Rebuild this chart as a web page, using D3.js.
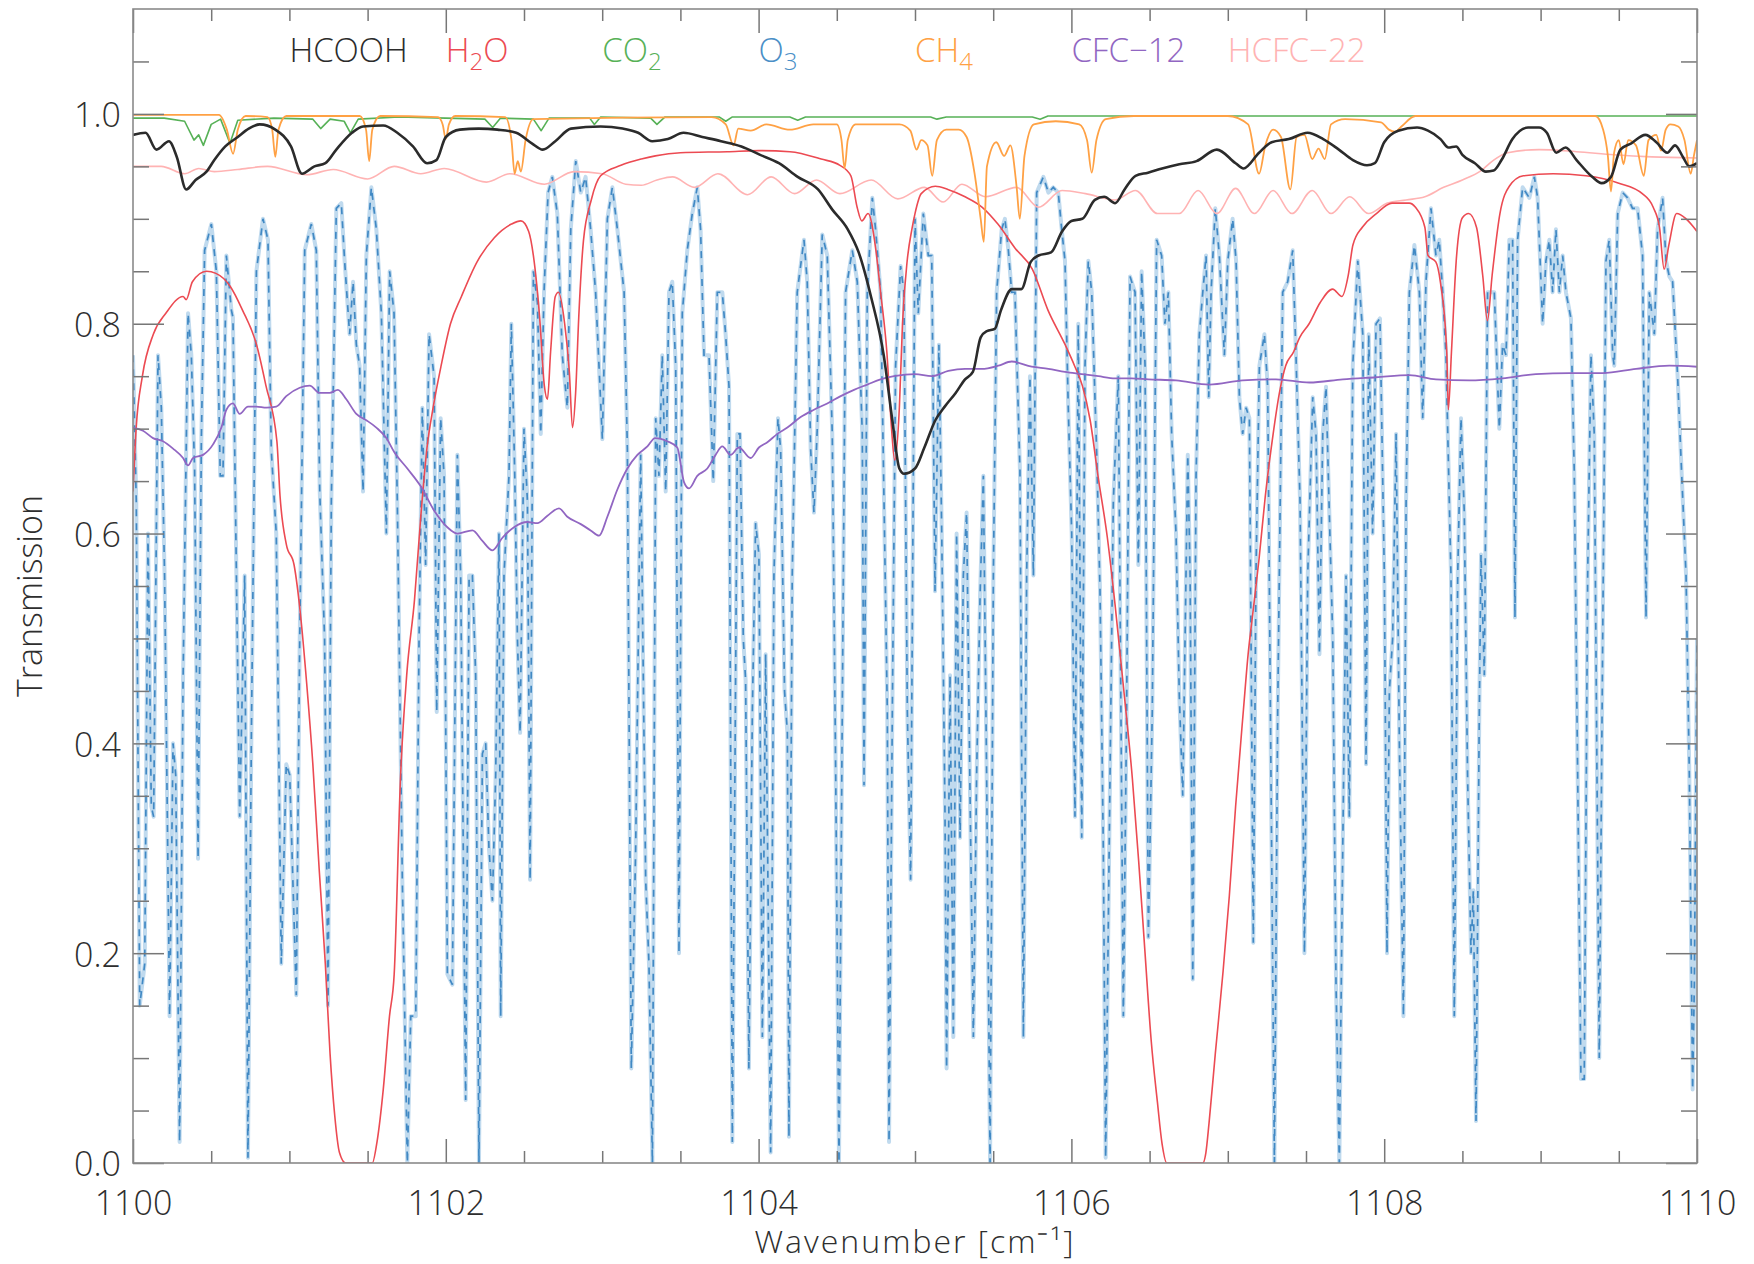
<!DOCTYPE html>
<html>
<head>
<meta charset="utf-8">
<script src="https://cdn.jsdelivr.net/npm/d3@7"></script>
<style>
  body { margin: 0; background: #fff; }
  text { font-family: "Open Sans", "DejaVu Sans", sans-serif; font-weight: 300; }
</style>
</head>
<body>
<svg id="chart" width="1754" height="1264"></svg>
<script>
// transmission spectra, [wavenumber, transmission]
const hcooh = [[1100.0,.98],[1100.08,.982],[1100.15,.966],[1100.23,.974],[1100.28,.959],[1100.34,.928],[1100.40,.937],[1100.47,.945],[1100.52,.956],[1100.59,.969],[1100.67,.978],[1100.74,.986],[1100.81,.99],[1100.91,.985],[1101.01,.969],[1101.08,.943],[1101.16,.95],[1101.23,.953],[1101.30,.966],[1101.40,.982],[1101.47,.988],[1101.60,.989],[1101.69,.982],[1101.79,.969],[1101.88,.953],[1101.94,.956],[1102.00,.978],[1102.09,.985],[1102.21,.986],[1102.33,.985],[1102.45,.982],[1102.55,.972],[1102.62,.966],[1102.70,.974],[1102.80,.986],[1102.99,.988],[1103.13,.986],[1103.23,.982],[1103.32,.974],[1103.42,.976],[1103.52,.982],[1103.64,.978],[1103.76,.974],[1103.89,.969],[1104.01,.961],[1104.13,.953],[1104.25,.94],[1104.38,.928],[1104.47,.909],[1104.57,.89],[1104.64,.868],[1104.72,.825],[1104.80,.77],[1104.855,.708],[1104.90,.662],[1104.93,.657],[1105.0,.662],[1105.06,.682],[1105.13,.708],[1105.19,.721],[1105.26,.734],[1105.32,.747],[1105.37,.754],[1105.42,.787],[1105.46,.793],[1105.51,.795],[1105.55,.813],[1105.62,.833],[1105.68,.833],[1105.74,.859],[1105.79,.865],[1105.87,.868],[1105.94,.888],[1106.00,.898],[1106.07,.90],[1106.15,.918],[1106.21,.921],[1106.28,.915],[1106.34,.928],[1106.41,.941],[1106.49,.944],[1106.58,.948],[1106.69,.952],[1106.80,.955],[1106.93,.966],[1107.05,.953],[1107.10,.948],[1107.20,.963],[1107.28,.973],[1107.39,.976],[1107.51,.982],[1107.61,.976],[1107.71,.966],[1107.80,.956],[1107.89,.951],[1107.94,.953],[1108.00,.973],[1108.09,.984],[1108.21,.987],[1108.28,.984],[1108.36,.976],[1108.41,.968],[1108.46,.969],[1108.50,.961],[1108.58,.953],[1108.65,.945],[1108.70,.946],[1108.75,.956],[1108.82,.976],[1108.92,.987],[1108.99,.987],[1109.04,.982],[1109.10,.963],[1109.16,.968],[1109.23,.956],[1109.33,.94],[1109.39,.934],[1109.45,.94],[1109.51,.966],[1109.58,.972],[1109.67,.98],[1109.74,.973],[1109.81,.963],[1109.86,.97],[1109.91,.959],[1109.95,.95],[1110.0,.953]];

const h2o = [[1100.0,.64],[1100.02,.70],[1100.06,.75],[1100.13,.79],[1100.21,.81],[1100.32,.826],[1100.34,.823],[1100.38,.84],[1100.47,.85],[1100.53,.848],[1100.62,.836],[1100.70,.813],[1100.79,.78],[1100.85,.741],[1100.92,.688],[1100.94,.636],[1100.98,.59],[1101.03,.57],[1101.07,.524],[1101.11,.458],[1101.15,.38],[1101.19,.281],[1101.23,.189],[1101.26,.104],[1101.29,.045],[1101.32,.01],[1101.36,0],[1101.53,0],[1101.56,.02],[1101.60,.07],[1101.64,.14],[1101.67,.18],[1101.71,.366],[1101.75,.465],[1101.80,.537],[1101.84,.616],[1101.88,.682],[1101.92,.721],[1101.97,.76],[1102.03,.80],[1102.10,.826],[1102.20,.859],[1102.31,.882],[1102.42,.895],[1102.48,.898],[1102.53,.888],[1102.56,.865],[1102.60,.806],[1102.63,.741],[1102.65,.728],[1102.67,.773],[1102.70,.826],[1102.72,.83],[1102.76,.80],[1102.79,.754],[1102.81,.701],[1102.83,.734],[1102.85,.806],[1102.88,.879],[1102.93,.918],[1102.99,.941],[1103.12,.951],[1103.25,.957],[1103.34,.96],[1103.5,.963],[1103.8,.964],[1104.0,.965],[1104.2,.964],[1104.4,.957],[1104.52,.951],[1104.59,.941],[1104.63,.911],[1104.66,.898],[1104.70,.905],[1104.75,.87],[1104.78,.83],[1104.82,.773],[1104.85,.70],[1104.87,.67],[1104.90,.72],[1104.92,.80],[1104.95,.86],[1104.98,.89],[1105.0,.905],[1105.04,.924],[1105.13,.931],[1105.21,.928],[1105.32,.921],[1105.43,.911],[1105.53,.895],[1105.64,.872],[1105.75,.852],[1105.85,.813],[1105.96,.78],[1106.02,.76],[1106.07,.741],[1106.12,.708],[1106.17,.655],[1106.23,.596],[1106.28,.531],[1106.33,.458],[1106.39,.366],[1106.43,.288],[1106.47,.202],[1106.51,.117],[1106.55,.058],[1106.58,.018],[1106.61,0],[1106.84,0],[1106.86,.01],[1106.88,.038],[1106.92,.104],[1106.97,.183],[1107.01,.255],[1107.05,.34],[1107.10,.432],[1107.13,.485],[1107.16,.524],[1107.20,.576],[1107.24,.636],[1107.29,.695],[1107.33,.734],[1107.37,.76],[1107.42,.773],[1107.46,.787],[1107.52,.80],[1107.59,.82],[1107.67,.833],[1107.73,.826],[1107.77,.846],[1107.80,.875],[1107.86,.892],[1107.95,.905],[1108.05,.915],[1108.16,.915],[1108.20,.911],[1108.26,.892],[1108.28,.865],[1108.33,.859],[1108.36,.839],[1108.40,.773],[1108.41,.718],[1108.43,.773],[1108.46,.859],[1108.50,.901],[1108.54,.905],[1108.59,.892],[1108.63,.846],[1108.66,.803],[1108.69,.846],[1108.74,.905],[1108.80,.931],[1108.89,.941],[1109.08,.943],[1109.29,.941],[1109.50,.934],[1109.65,.924],[1109.72,.911],[1109.76,.892],[1109.79,.852],[1109.82,.875],[1109.87,.905],[1109.93,.90],[1110.0,.888]];

const co2 = [[1100.0,.996],[1100.2,.996],[1100.33,.993],[1100.39,.975],[1100.42,.980],[1100.45,.970],[1100.50,.990],[1100.56,.995],[1100.62,.972],[1100.67,.994],[1100.9,.996],[1101.15,.995],[1101.20,.986],[1101.26,.995],[1101.35,.993],[1101.39,.982],[1101.44,.995],[1101.7,.997],[1102.0,.996],[1102.25,.995],[1102.30,.987],[1102.35,.996],[1102.56,.995],[1102.61,.984],[1102.66,.996],[1102.92,.996],[1102.95,.990],[1102.99,.997],[1103.31,.996],[1103.35,.990],[1103.40,.997],[1103.75,.997],[1103.79,.993],[1103.83,.997],[1104.2,.997],[1104.25,.994],[1104.3,.997],[1105.1,.997],[1105.14,.995],[1105.2,.997],[1105.75,.997],[1105.8,.995],[1105.85,.998],[1110.0,.998]];

// ozone, split in four stretches of the band
const o3A = [[1100.000,.77],[1100.021,.63],[1100.043,.15],[1100.075,.19],[1100.096,.60],[1100.117,.34],[1100.132,.33],[1100.160,.77],[1100.181,.72],[1100.202,.56],[1100.234,.14],[1100.256,.40],[1100.273,.37],[1100.298,.02],[1100.320,.46],[1100.352,.81],[1100.373,.77],[1100.394,.66],[1100.416,.29],[1100.437,.69],[1100.458,.87],[1100.501,.895],[1100.533,.85],[1100.558,.655],[1100.575,.655],[1100.597,.865],[1100.629,.813],[1100.639,.806],[1100.682,.33],[1100.714,.56],[1100.735,.005],[1100.757,.41],[1100.789,.85],[1100.831,.90],[1100.863,.88],[1100.884,.68],[1100.916,.60],[1100.948,.19],[1100.980,.38],[1101.002,.37],[1101.044,.16],[1101.066,.50],[1101.098,.87],[1101.140,.895],[1101.172,.87],[1101.194,.64],[1101.225,.50],[1101.247,.15],[1101.268,.63],[1101.300,.91],[1101.332,.915],[1101.353,.86],[1101.385,.79],[1101.407,.84],[1101.428,.78],[1101.449,.76],[1101.471,.64],[1101.492,.865],[1101.524,.93],[1101.556,.89],[1101.588,.81],[1101.620,.60],[1101.641,.85],[1101.669,.81],[1101.690,.63],[1101.722,.27],[1101.754,0],[1101.776,.14],[1101.808,.14],[1101.829,.50],[1101.850,.72],[1101.871,.57],[1101.893,.79],[1101.925,.75],[1101.942,.43],[1101.967,.71],[1101.989,.655],[1102.010,.18],[1102.042,.17],[1102.074,.675],[1102.095,.56],[1102.127,.06],[1102.149,.56],[1102.170,.56],[1102.191,.465],[1102.212,0],[1102.234,.39],[1102.255,.40],[1102.276,.30],[1102.298,.25],[1102.319,.37],[1102.340,.60],[1102.351,.14],[1102.372,.56],[1102.404,.655],[1102.419,.80],[1102.441,.655],[1102.458,.50],[1102.475,.41]];
const o3B = [[1102.500,.70],[1102.522,.63],[1102.539,.27],[1102.560,.85],[1102.586,.82],[1102.607,.695],[1102.628,.83],[1102.654,.925],[1102.681,.94],[1102.713,.905],[1102.745,.77],[1102.777,.72],[1102.799,.89],[1102.831,.955],[1102.863,.925],[1102.894,.94],[1102.926,.89],[1102.958,.83],[1103.001,.69],[1103.033,.90],[1103.065,.93],[1103.097,.89],[1103.140,.83],[1103.161,.68],[1103.186,.09],[1103.214,.30],[1103.246,.675],[1103.278,.27],[1103.299,.19],[1103.321,0],[1103.342,.71],[1103.363,.655],[1103.384,.77],[1103.406,.64],[1103.427,.83],[1103.448,.84],[1103.470,.76],[1103.491,.20],[1103.512,.81],[1103.544,.87],[1103.576,.905],[1103.608,.93],[1103.629,.89],[1103.651,.77],[1103.683,.77],[1103.710,.65],[1103.736,.83],[1103.768,.83],[1103.789,.79],[1103.811,.74],[1103.832,.02],[1103.864,.695],[1103.881,.695],[1103.902,.50],[1103.917,.46],[1103.938,.09],[1103.960,.43],[1103.981,.61],[1104.002,.58],[1104.024,.12],[1104.045,.485],[1104.077,.01],[1104.098,.56],[1104.124,.71],[1104.141,.68],[1104.166,.45],[1104.184,.41],[1104.194,.025],[1104.215,.56],[1104.247,.83],[1104.290,.88],[1104.311,.84],[1104.333,.68],[1104.354,.62],[1104.375,.70],[1104.407,.885],[1104.439,.865],[1104.471,.695],[1104.493,.37],[1104.514,0],[1104.535,.43],[1104.556,.83],[1104.599,.87],[1104.631,.84],[1104.663,.695],[1104.674,.36],[1104.695,.83],[1104.727,.92],[1104.748,.89],[1104.780,.83],[1104.802,.63],[1104.823,.43],[1104.834,.02],[1104.855,.43],[1104.876,.76],[1104.908,.855],[1104.929,.83],[1104.951,.43],[1104.972,.27]];
const o3C = [[1105.000,.90],[1105.021,.81],[1105.053,.905],[1105.085,.865],[1105.107,.865],[1105.128,.545],[1105.153,.78],[1105.171,.60],[1105.192,.33],[1105.202,.09],[1105.224,.465],[1105.245,.12],[1105.266,.60],[1105.288,.31],[1105.309,.56],[1105.330,.62],[1105.352,.35],[1105.373,.12],[1105.394,.37],[1105.416,.54],[1105.437,.655],[1105.458,.37],[1105.480,0],[1105.501,.56],[1105.522,.83],[1105.554,.89],[1105.575,.90],[1105.597,.87],[1105.618,.83],[1105.639,.83],[1105.671,.66],[1105.693,.12],[1105.714,.56],[1105.735,.75],[1105.757,.56],[1105.778,.925],[1105.821,.94],[1105.853,.925],[1105.884,.93],[1105.916,.925],[1105.938,.89],[1105.959,.86],[1105.980,.72],[1106.002,.60],[1106.023,.33],[1106.044,.80],[1106.066,.31],[1106.087,.76],[1106.108,.86],[1106.130,.83],[1106.162,.675],[1106.183,.545],[1106.204,.30],[1106.219,.005],[1106.247,.37],[1106.268,.63],[1106.300,.75],[1106.332,.14],[1106.353,.43],[1106.375,.845],[1106.407,.83],[1106.428,.57],[1106.449,.85],[1106.471,.76],[1106.492,.215],[1106.517,.43],[1106.545,.88],[1106.577,.865],[1106.598,.80],[1106.620,.83],[1106.641,.695],[1106.669,.60],[1106.690,.445],[1106.712,.35],[1106.744,.675],[1106.759,.56],[1106.776,.175],[1106.797,.655],[1106.818,.79],[1106.840,.83],[1106.861,.865],[1106.878,.73],[1106.893,.83],[1106.920,.91],[1106.946,.865],[1106.978,.77],[1107.000,.86],[1107.031,.90],[1107.053,.86],[1107.074,.73],[1107.095,.695],[1107.117,.72],[1107.138,.71],[1107.163,.21],[1107.180,.56],[1107.202,.76],[1107.234,.79],[1107.255,.74],[1107.276,.37],[1107.298,0],[1107.319,.43],[1107.351,.83],[1107.383,.84],[1107.415,.87],[1107.436,.77],[1107.462,.63],[1107.490,.20]];
const o3D = [[1107.511,.56],[1107.543,.73],[1107.564,.695],[1107.586,.485],[1107.607,.695],[1107.628,.74],[1107.649,.62],[1107.671,.50],[1107.692,.17],[1107.713,0],[1107.735,.30],[1107.756,.56],[1107.777,.33],[1107.799,.76],[1107.831,.86],[1107.863,.79],[1107.884,.38],[1107.901,.79],[1107.926,.60],[1107.948,.80],[1107.973,.805],[1108.001,.56],[1108.018,.20],[1108.033,.45],[1108.054,.50],[1108.076,.695],[1108.097,.40],[1108.123,.14],[1108.140,.63],[1108.161,.83],[1108.193,.875],[1108.225,.83],[1108.246,.71],[1108.267,.84],[1108.299,.91],[1108.331,.865],[1108.352,.88],[1108.374,.83],[1108.395,.77],[1108.427,.56],[1108.448,.14],[1108.470,.56],[1108.491,.71],[1108.512,.62],[1108.533,.37],[1108.555,.20],[1108.570,.26],[1108.587,.04],[1108.608,.43],[1108.619,.58],[1108.640,.465],[1108.661,.83],[1108.683,.83],[1108.704,.83],[1108.736,.70],[1108.757,.78],[1108.779,.77],[1108.800,.88],[1108.821,.88],[1108.836,.52],[1108.853,.88],[1108.885,.93],[1108.928,.92],[1108.960,.94],[1108.981,.92],[1109.013,.80],[1109.034,.86],[1109.056,.88],[1109.077,.83],[1109.098,.89],[1109.120,.83],[1109.141,.865],[1109.162,.83],[1109.194,.805],[1109.215,.66],[1109.237,.37],[1109.258,.08],[1109.279,.08],[1109.301,.56],[1109.322,.77],[1109.343,.695],[1109.375,.10],[1109.397,.50],[1109.418,.86],[1109.439,.88],[1109.461,.77],[1109.471,.76],[1109.493,.905],[1109.525,.925],[1109.556,.92],[1109.588,.91],[1109.620,.91],[1109.652,.865],[1109.674,.52],[1109.695,.83],[1109.727,.79],[1109.748,.89],[1109.780,.92],[1109.802,.86],[1109.823,.845],[1109.844,.84],[1109.876,.75],[1109.904,.65],[1109.930,.56],[1109.951,.37],[1109.972,.07],[1109.983,.17],[1110.000,.50]];
const o3 = o3A.concat(o3B, o3C, o3D);

const ch4 = [[1100.0,.999],[1100.55,.999],[1100.60,.985],[1100.64,.962],[1100.67,.985],[1100.72,.998],[1100.86,.997],[1100.89,.985],[1100.91,.959],[1100.93,.985],[1100.98,.998],[1101.45,.998],[1101.49,.985],[1101.51,.955],[1101.53,.985],[1101.58,.998],[1101.95,.997],[1101.98,.99],[1102.0,.976],[1102.02,.99],[1102.06,.998],[1102.38,.997],[1102.42,.975],[1102.44,.943],[1102.46,.955],[1102.48,.945],[1102.51,.975],[1102.56,.995],[1103.7,.997],[1103.79,.99],[1103.84,.970],[1103.87,.986],[1103.95,.984],[1104.05,.990],[1104.2,.985],[1104.35,.99],[1104.5,.99],[1104.53,.975],[1104.55,.948],[1104.57,.975],[1104.62,.99],[1104.9,.99],[1104.97,.984],[1105.01,.966],[1105.04,.975],[1105.08,.97],[1105.11,.941],[1105.14,.975],[1105.2,.985],[1105.28,.985],[1105.33,.978],[1105.38,.944],[1105.42,.90],[1105.44,.878],[1105.46,.95],[1105.52,.973],[1105.57,.96],[1105.61,.97],[1105.65,.93],[1105.67,.90],[1105.70,.96],[1105.76,.99],[1105.9,.993],[1106.05,.99],[1106.1,.975],[1106.13,.944],[1106.16,.975],[1106.22,.995],[1106.4,.998],[1107.0,.998],[1107.13,.99],[1107.2,.943],[1107.24,.97],[1107.29,.985],[1107.34,.978],[1107.40,.928],[1107.44,.978],[1107.49,.98],[1107.54,.957],[1107.58,.967],[1107.62,.957],[1107.66,.99],[1107.75,.995],[1107.98,.992],[1108.03,.985],[1108.07,.983],[1108.11,.988],[1108.2,.998],[1109.35,.998],[1109.40,.985],[1109.43,.96],[1109.45,.926],[1109.47,.963],[1109.50,.975],[1109.53,.952],[1109.56,.975],[1109.61,.97],[1109.66,.941],[1109.69,.975],[1109.74,.98],[1109.77,.965],[1109.80,.985],[1109.83,.99],[1109.88,.988],[1109.92,.975],[1109.96,.943],[1109.98,.96],[1110.0,.975]];

const cfc12 = [[1100.0,.701],[1100.064,.698],[1100.128,.691],[1100.192,.688],[1100.256,.681],[1100.32,.672],[1100.352,.665],[1100.384,.672],[1100.448,.675],[1100.512,.685],[1100.565,.701],[1100.597,.718],[1100.639,.724],[1100.682,.714],[1100.735,.721],[1100.789,.721],[1100.853,.72],[1100.916,.721],[1100.98,.731],[1101.066,.739],[1101.13,.741],[1101.194,.734],[1101.257,.734],[1101.31,.737],[1101.364,.728],[1101.428,.714],[1101.492,.708],[1101.556,.701],[1101.62,.691],[1101.669,.678],[1101.754,.662],[1101.84,.645],[1101.925,.622],[1102.01,.606],[1102.074,.60],[1102.17,.603],[1102.234,.593],[1102.298,.584],[1102.362,.596],[1102.436,.606],[1102.522,.611],[1102.586,.61],[1102.65,.617],[1102.724,.624],[1102.777,.616],[1102.863,.609],[1102.926,.603],[1102.98,.598],[1103.033,.616],[1103.097,.642],[1103.161,.662],[1103.225,.675],[1103.289,.683],[1103.338,.691],[1103.416,.688],[1103.48,.682],[1103.523,.649],[1103.555,.643],[1103.608,.655],[1103.672,.662],[1103.725,.675],[1103.768,.683],[1103.821,.675],[1103.874,.682],[1103.949,.672],[1104.002,.682],[1104.056,.687],[1104.12,.695],[1104.184,.701],[1104.269,.711],[1104.354,.718],[1104.439,.724],[1104.525,.731],[1104.61,.737],[1104.695,.742],[1104.78,.747],[1104.866,.75],[1105.0,.752],[1105.107,.75],[1105.213,.755],[1105.32,.757],[1105.426,.757],[1105.533,.76],[1105.618,.764],[1105.746,.759],[1105.853,.757],[1105.959,.754],[1106.066,.752],[1106.172,.75],[1106.279,.748],[1106.385,.748],[1106.492,.747],[1106.669,.746],[1106.882,.742],[1107.095,.746],[1107.308,.747],[1107.522,.744],[1107.735,.747],[1107.948,.749],[1108.161,.751],[1108.331,.747],[1108.544,.746],[1108.757,.748],[1108.97,.752],[1109.184,.753],[1109.397,.753],[1109.61,.757],[1109.823,.76],[1110.0,.759]];

const hcfc22 = [[1100.0,.95],[1100.18,.95],[1100.33,.943],[1100.42,.948],[1100.52,.945],[1100.67,.947],[1100.86,.95],[1101.11,.942],[1101.28,.947],[1101.50,.938],[1101.67,.95],[1101.84,.943],[1101.99,.948],[1102.26,.935],[1102.41,.943],[1102.63,.933],[1102.82,.945],[1103.0,.943],[1103.15,.933],[1103.25,.932],[1103.35,.937],[1103.45,.94],[1103.59,.93],[1103.74,.943],[1103.93,.923],[1104.08,.94],[1104.23,.924],[1104.37,.937],[1104.52,.924],[1104.72,.937],[1104.89,.919],[1105.06,.93],[1105.18,.916],[1105.30,.933],[1105.45,.921],[1105.65,.93],[1105.79,.911],[1105.94,.927],[1106.09,.924],[1106.28,.918],[1106.41,.927],[1106.55,.905],[1106.69,.905],[1106.81,.927],[1106.93,.905],[1107.05,.929],[1107.17,.905],[1107.29,.927],[1107.41,.905],[1107.54,.927],[1107.66,.905],[1107.78,.921],[1107.90,.905],[1108.02,.915],[1108.14,.918],[1108.26,.921],[1108.38,.930],[1108.50,.937],[1108.62,.946],[1108.70,.956],[1108.79,.963],[1108.99,.966],[1109.23,.964],[1109.47,.961],[1109.71,.959],[1110.0,.958]];

// legend labels: odd-indexed pieces are subscripts
const legendLabels = [["HCOOH"], ["H", "2", "O"], ["CO", "2"], ["O", "3"], ["CH", "4"], ["CFC\u221212"], ["HCFC\u221222"]];
const legendColors = ["#2b2b2b", "#ec4a52", "#57b157", "#4a8fc7", "#ffa144", "#9166c2", "#ffb3b3"];

const xMajor = [1100, 1102, 1104, 1106, 1108, 1110];
const yMajor = [0, 0.2, 0.4, 0.6, 0.8, 1.0];

const margin = {left: 133, right: 57, top: 9, bottom: 101};
const svg = d3.select("#chart");
const W = +svg.attr("width"), H = +svg.attr("height");
const width = W - margin.left - margin.right;
const height = H - margin.top - margin.bottom;

const x = d3.scaleLinear().domain([1100, 1110]).range([0, width]);
const y = d3.scaleLinear().domain([0, 1.1]).range([height, 0]);

const g = svg.append("g").attr("transform", `translate(${margin.left},${margin.top})`);

g.append("clipPath").attr("id", "plotclip")
  .append("rect").attr("width", width).attr("height", height);

const line = d3.line().x(d => x(d[0])).y(d => y(d[1]));
const smooth = d3.line().x(d => x(d[0])).y(d => y(d[1])).curve(d3.curveMonotoneX);
const plot = g.append("g").attr("clip-path", "url(#plotclip)");

// ozone: pale wide stroke under a dashed darker one
plot.append("path").datum(o3)
  .attr("d", line).attr("fill", "none")
  .attr("stroke", "#c0daee").attr("stroke-width", 4).attr("stroke-linejoin", "round");
plot.append("path").datum(o3)
  .attr("d", line).attr("fill", "none")
  .attr("stroke", "#4189c4").attr("stroke-width", 1.7)
  .attr("stroke-dasharray", "7 7");

const series = [
  {data: hcfc22, color: legendColors[6], w: 1.6, gen: smooth},
  {data: h2o, color: legendColors[1], w: 1.6, gen: smooth},
  {data: cfc12, color: legendColors[5], w: 1.8, gen: smooth},
  {data: co2, color: legendColors[2], w: 1.6, gen: line},
  {data: ch4, color: legendColors[4], w: 1.8, gen: smooth},
  {data: hcooh, color: legendColors[0], w: 2.6, gen: smooth}
];
series.forEach(s => {
  plot.append("path").datum(s.data)
    .attr("d", s.gen).attr("fill", "none")
    .attr("stroke", s.color).attr("stroke-width", s.w)
    .attr("stroke-linejoin", "round");
});

// axes, ticks pointing inward on all four sides
const tickColor = "#777";
const xMinor = d3.range(1100, 1110.001, 0.5).filter(v => v % 2 !== 0);
const yMinor = d3.range(0, 1.1001, 0.05).map(v => +v.toFixed(2)).filter(v => !yMajor.includes(v) && v < 1.09);

function style(sel) {
  sel.select(".domain").remove();
  sel.selectAll(".tick line").attr("stroke", tickColor).attr("stroke-width", 1.5);
  sel.selectAll(".tick text").attr("fill", "#2e2e2e").attr("font-size", 34)
    .attr("font-family", "Open Sans, DejaVu Sans, sans-serif").attr("font-weight", 300);
}

g.append("g").attr("transform", `translate(0,${height})`)
  .call(d3.axisBottom(x).tickValues(xMajor).tickSize(-24).tickPadding(28).tickFormat(d3.format("d")))
  .call(style);
g.append("g").attr("transform", `translate(0,${height})`)
  .call(d3.axisBottom(x).tickValues(xMinor).tickSize(-12).tickFormat(""))
  .call(style);
g.append("g")
  .call(d3.axisTop(x).tickValues(xMajor).tickSize(-24).tickFormat(""))
  .call(style);
g.append("g")
  .call(d3.axisTop(x).tickValues(xMinor).tickSize(-12).tickFormat(""))
  .call(style);

g.append("g")
  .call(d3.axisLeft(y).tickValues(yMajor).tickSize(-31).tickPadding(12).tickFormat(d3.format(".1f")))
  .call(style)
  .call(a => a.selectAll(".tick text").attr("dy", "0.38em"));
g.append("g")
  .call(d3.axisLeft(y).tickValues(yMinor).tickSize(-16).tickFormat(""))
  .call(style);
g.append("g").attr("transform", `translate(${width},0)`)
  .call(d3.axisRight(y).tickValues(yMajor).tickSize(-31).tickFormat(""))
  .call(style);
g.append("g").attr("transform", `translate(${width},0)`)
  .call(d3.axisRight(y).tickValues(yMinor).tickSize(-16).tickFormat(""))
  .call(style);

g.append("rect")
  .attr("width", width).attr("height", height)
  .attr("fill", "none").attr("stroke", "#8a8a8a").attr("stroke-width", 1.6);

// legend: one entry per wavenumber step along the top
const legend = g.append("g");
legendLabels.forEach((parts, i) => {
  const t = legend.append("text")
    .attr("x", x(1101 + i)).attr("y", y(1.05) + 1)
    .attr("fill", legendColors[i]).attr("font-size", 33);
  parts.forEach((p, j) => {
    const sub = j % 2 === 1;
    const ts = t.append("tspan").text(p);
    if (sub) ts.attr("font-size", 24).attr("dy", 8);
    else if (j > 0) ts.attr("dy", -8);
  });
});

// axis titles
svg.append("text")
  .attr("x", margin.left + width / 2).attr("y", 1253)
  .attr("text-anchor", "middle").attr("fill", "#2e2e2e").attr("font-size", 32)
  .attr("letter-spacing", 2)
  .text("Wavenumber [cm\u207B\u00B9]");

svg.append("text")
  .attr("transform", `translate(42,${margin.top + height / 2 + 10}) rotate(-90)`)
  .attr("text-anchor", "middle").attr("fill", "#2e2e2e").attr("font-size", 34)
  .text("Transmission");
</script>
</body>
</html>
